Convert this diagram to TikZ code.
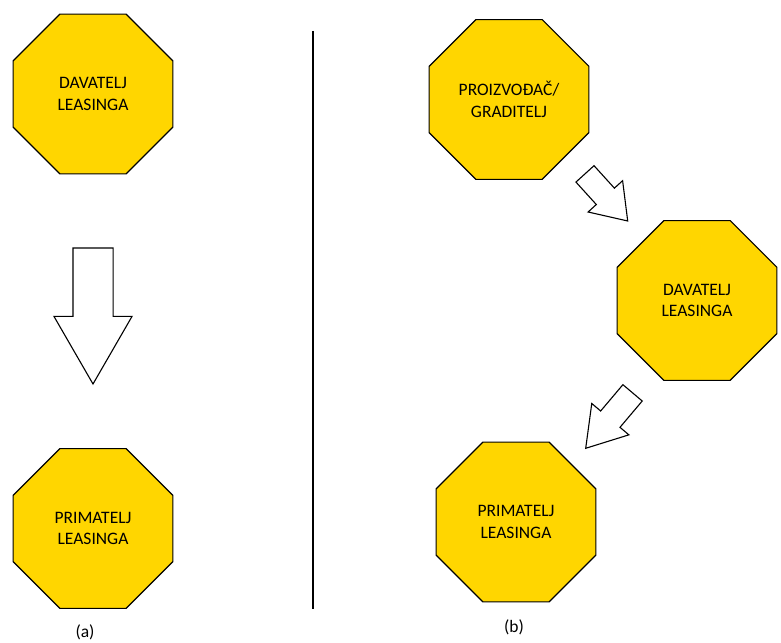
\documentclass[tikz,border=0pt]{standalone}
\usepackage{fontspec}
\setmainfont{Carlito}
\usetikzlibrary{shapes.geometric,shapes.arrows,positioning}
\definecolor{octgold}{RGB}{255,214,0}

\begin{document}
\begin{tikzpicture}
    [x=1pt,y=1pt,on grid,
    octagon/.style={regular polygon,regular polygon sides=8,minimum size=173pt,
        inner sep=0pt,outer sep=0pt,draw=black,line width=1.1pt,fill=octgold,
        align=center,font=\fontsize{17.5}{21.7}\selectfont},
    block arrow/.style={single arrow,draw=black,line width=1.1pt,fill=white,
        inner xsep=0pt,outer sep=0pt,anchor=tip},
    caption/.style={font=\fontsize{17.5}{21}\selectfont}]
    \useasboundingbox (0,0) rectangle (781,642);
    % lijevi dio (a)
    \node [octagon] (dl) at (93,548) {DAVATELJ\\LEASINGA};
    \node [octagon] (pl) [below=434.5pt of dl] {PRIMATELJ\\LEASINGA};
    \node [block arrow,rotate=-90,inner ysep=19.5pt,single arrow head extend=19pt,
        minimum width=77pt,minimum height=136pt,single arrow tip angle=60]
        (al) at (93,258) {};
    \node [caption] (capa) at (85,10) {(a)};
    % razdjelnica
    \coordinate (divtop) at (313,611);
    \coordinate (divbot) at (313,33);
    \draw [line width=1.5pt] (divtop) -- (divbot);
    % desni dio (b)
    \node [octagon] (pg) at (509,542.5) {PROIZVOĐAČ/\\GRADITELJ};
    \node [octagon] (dr) [below right=201pt and 188pt of pg] {DAVATELJ\\LEASINGA};
    \node [octagon] (pr) [below left=221.5pt and 181pt of dr] {PRIMATELJ\\LEASINGA};
    \node [block arrow,rotate=-47.8,inner ysep=11.65pt,single arrow head extend=11.1pt,
        minimum width=45.5pt,minimum height=63.6pt,single arrow tip angle=70]
        (ar1) at (627.7,421) {};
    \node [block arrow,rotate=-130.2,inner ysep=12.1pt,single arrow head extend=11.65pt,
        minimum width=47.5pt,minimum height=72.6pt,single arrow tip angle=65]
        (ar2) at (585.7,193.7) {};
    \node [caption] (capb) at (514,15) {(b)};
\end{tikzpicture}
\end{document}
